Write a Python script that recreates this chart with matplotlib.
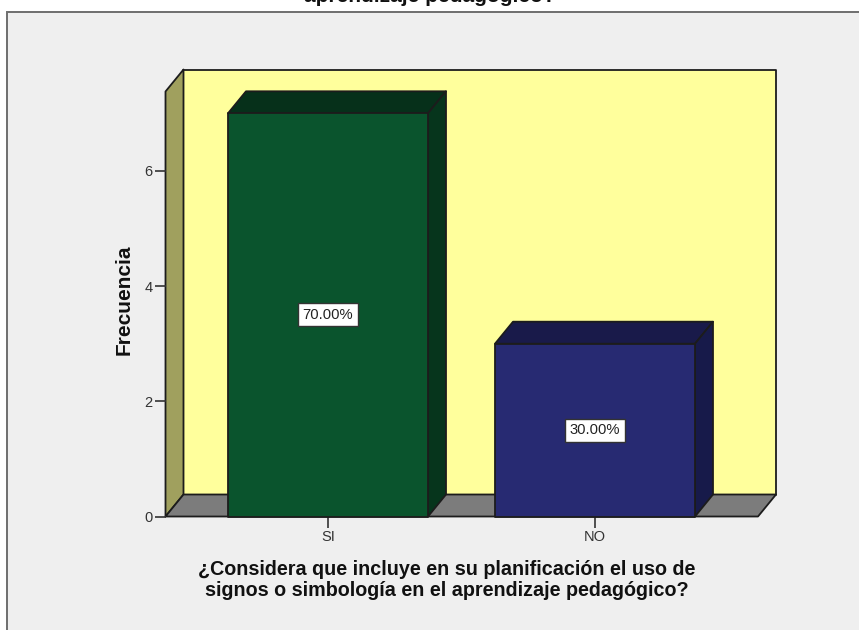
import matplotlib
matplotlib.use('Agg')
import matplotlib.pyplot as plt
from matplotlib.patches import Polygon, Rectangle

categories = ['SI', 'NO']
frecuencia = [7, 3]
porcentajes = ['70.00%', '30.00%']
bar_colors = ['#0a542d', '#272a72']
bar_top_colors = ['#06301a', '#191a4a']
bar_side_colors = ['#06351c', '#171a4a']
yticks = [0, 2, 4, 6]
titulo = '¿Considera que incluye en su planificación el uso de signos o simbología en el\naprendizaje pedagógico?'
xlabel = '¿Considera que incluye en su planificación el uso de\nsignos o simbología en el aprendizaje pedagógico?'

plt.rcParams['font.family'] = ['Liberation Sans', 'DejaVu Sans']

W, H = 859, 630
fig = plt.figure(figsize=(W / 100, H / 100), dpi=100, facecolor='white')

# chart frame, runs off the right and bottom edge
fig.add_artist(Rectangle((7 / W, -0.1), 1, 1.1 - 12 / H, transform=fig.transFigure,
                         facecolor='#efefef', edgecolor='#6e6e6e', lw=1.4, zorder=-1))

# front plane of the 3d box, in pixels
left, right, y0, ytop = 165.5, 758, 516.5, 91.5
ax = fig.add_axes([left / W, 1 - y0 / H, (right - left) / W, (y0 - ytop) / H])
ax.patch.set_alpha(0)

px_x = 267.0
px_y = 57.6
ax.set_xlim(-(328 - left) / px_x, 1 + (right - 595) / px_x)
ax.set_ylim(0, (y0 - ytop) / px_y)
dx = 18 / px_x
dy = 22 / px_y
x0, x1 = ax.get_xlim()
y1 = ax.get_ylim()[1]
edge = '#1c1c1c'


def poly(pts, fc, z=1):
    ax.add_patch(Polygon(pts, closed=True, facecolor=fc, edgecolor=edge, lw=1.3,
                         joinstyle='round', clip_on=False, zorder=z))


# walls and floor
poly([(x0 + dx, dy), (x1 + dx, dy), (x1 + dx, y1 + dy), (x0 + dx, y1 + dy)], '#ffff9c')
poly([(x0, 0), (x0 + dx, dy), (x0 + dx, y1 + dy), (x0, y1)], '#a0a05e')
poly([(x0, 0), (x1, 0), (x1 + dx, dy), (x0 + dx, dy)], '#7c7c7c')

# bars
bw = 200 / px_x
for i, v in enumerate(frecuencia):
    a, b = i - bw / 2, i + bw / 2
    poly([(a, v), (b, v), (b + dx, v + dy), (a + dx, v + dy)], bar_top_colors[i], 3)
    poly([(b, 0), (b + dx, dy), (b + dx, v + dy), (b, v)], bar_side_colors[i], 3)
    poly([(a, 0), (b, 0), (b, v), (a, v)], bar_colors[i], 4)
    ax.text(i, v / 2, porcentajes[i], ha='center', va='center', fontsize=10.6, color='#222222',
            zorder=6, bbox=dict(boxstyle='square,pad=0.3', fc='white', ec='#333333', lw=1))

for s in ax.spines.values():
    s.set_visible(False)
ax.set_xticks(range(len(categories)), categories)
ax.set_yticks(yticks)
ax.tick_params(axis='both', length=8, width=1.2, color='#333333', labelcolor='#333333',
               labelsize=10.5, pad=1.5)

ax.set_ylabel('Frecuencia', fontsize=15, fontweight='bold', color='#111111', labelpad=7.5, y=0.51)
fig.text(447 / W, 1 - 580 / H, xlabel, ha='center', va='center', fontsize=14.2, fontweight='bold',
         color='#111111', linespacing=1.15)
fig.text(430 / W, 1 - 2 / H, titulo, ha='center', va='baseline', fontsize=15, fontweight='bold',
         color='#111111')

fig.savefig('out.png', dpi=100)
